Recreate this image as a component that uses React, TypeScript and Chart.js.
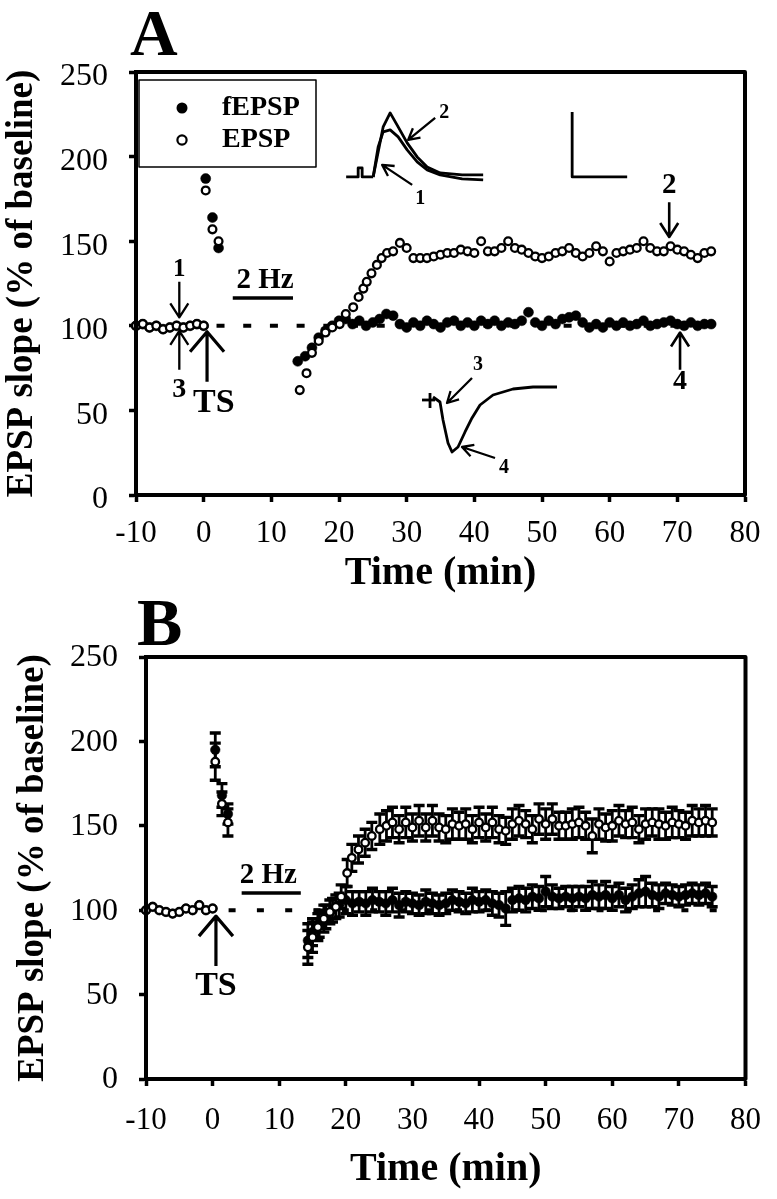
import React, { useEffect, useRef } from 'react';
import { Chart, registerables } from 'chart.js';

Chart.register(...registerables);

const FONT = '"Liberation Serif", "Times New Roman", Times, serif';
Chart.defaults.font.family = FONT;

// ---------------- shared axis settings ----------------
const xMin = -10;
const xMax = 80;
const xStep = 10;
const yMin = 0;
const yMax = 250;
const yStep = 50;
const xTitle = 'Time (min)';
const yTitle = 'EPSP slope (% of baseline)';
const seriesNames = ['fEPSP', 'EPSP'];

// ---------------- Panel A data ----------------
const aTimeEPSP = [-10, -9, -8, -7, -6, -5, -4, -3, -2, -1, 0,
  0.3, 1.3, 2.2,
  14.2, 15.2, 16, 17, 18, 19, 20.1, 21, 22.1, 22.9, 23.6, 24.1, 24.8, 25.6, 26.3, 27.1, 28, 29,
  30, 31, 32, 33, 34, 35, 36, 37, 38, 39, 40, 41, 42, 43, 44, 45, 46, 47, 48, 49,
  50, 51, 52, 53, 54, 55, 56, 57, 58, 59, 60, 61, 62, 63, 64, 65, 66, 67, 68, 69,
  70, 71, 72, 73, 74, 75];
const aEPSP = [100, 101, 99, 100, 98, 99, 100, 99, 100, 101, 100,
  180, 157, 150,
  62, 72, 84, 91, 96, 99, 101, 107, 111, 117, 122, 126, 131, 136, 140, 143, 144, 149,
  146, 140, 140, 140, 141, 142, 143, 143, 145, 144,
  143, 150, 144, 144, 146, 150, 146, 145, 143, 141,
  140, 141, 143, 144, 146, 143, 141, 143, 147, 144,
  138, 143, 144, 145, 146, 150, 146, 144, 144, 147,
  145, 144, 142, 140, 143, 144];

const aTimeFEPSP = [-10, -9, -8, -7, -6, -5, -4, -3, -2, -1, 0,
  0.3, 1.3, 2.2,
  13.9, 15, 16, 17, 18, 19,
  20, 21, 22, 23, 24, 25, 26, 27, 28, 29,
  30, 31, 32, 33, 34, 35, 36, 37, 38, 39,
  40, 41, 42, 43, 44, 45, 46, 47, 48, 49,
  50, 51, 52, 53, 54, 55, 56, 57, 58, 59,
  60, 61, 62, 63, 64, 65, 66, 67, 68, 69,
  70, 71, 72, 73, 74, 75];
const aFEPSP = [100, 101, 99, 100, 98, 99, 100, 99, 100, 101, 100,
  187, 164, 146,
  79, 82, 87, 93, 97, 100,
  103, 104, 101, 103, 100, 102, 104, 107, 106, 101,
  99, 102, 100, 103, 101, 99, 102, 103, 100, 102,
  100, 103, 101, 103, 100, 102, 101, 103, 108, 102,
  100, 103, 101, 104, 105, 106, 102, 99, 101, 99,
  102, 100, 102, 100, 101, 103, 100, 101, 102, 103,
  101, 100, 102, 100, 101, 101];

// ---------------- Panel B data (mean ± SEM) ----------------
const bTimeEPSP = [-10, -9, -8, -7, -6, -5, -4, -3, -2, -1, 0,
  0.4, 1.4, 2.3,
  14.3, 15, 15.8, 16.7, 17.6, 18.5, 19.3, 20.2, 20.9, 21.9, 22.9, 23.9, 25.1, 26.1,
  27, 28, 29, 30, 31, 32, 33, 34, 35, 36,
  37, 38, 39, 40, 41, 42, 43, 44, 45, 46,
  47, 48, 49, 50, 51, 52, 53, 54, 55, 56,
  57, 58, 59, 60, 61, 62, 63, 64, 65, 66,
  67, 68, 69, 70, 71, 72, 73, 74, 75];
const bEPSP = [100, 102, 100, 99, 98, 99, 101, 100, 103, 100, 101,
  188, 163, 152,
  78, 84, 90, 95, 99, 102, 108, 122, 131, 136, 140, 144, 148, 150,
  152, 148, 152, 149, 153, 149, 153, 149, 148, 151,
  150, 151, 148, 152, 149, 152, 148, 147, 151, 153,
  151, 148, 154, 151, 154, 150, 150, 151, 152, 150,
  144, 151, 149, 150, 153, 151, 152, 148, 151, 152,
  151, 150, 152, 151, 150, 153, 152, 153, 152];
const bErrEPSP = [0, 0, 0, 0, 0, 0, 0, 0, 0, 0, 0,
  11, 7, 8,
  10, 9, 8, 8, 7, 7, 7, 8, 8, 8, 8, 8, 9, 9,
  9, 8, 9, 8, 9, 8, 9, 8, 8, 9,
  8, 9, 8, 9, 8, 9, 8, 8, 9, 9,
  8, 8, 9, 9, 9, 8, 8, 9, 9, 8,
  10, 9, 8, 9, 9, 8, 9, 8, 9, 8,
  9, 8, 9, 8, 8, 9, 8, 9, 8];

const bTimeFEPSP = [-10, -9, -8, -7, -6, -5, -4, -3, -2, -1, 0,
  0.4, 1.4, 2.3,
  14.3, 15, 16, 17, 18, 19, 20, 21, 22, 23,
  24, 25, 26, 27, 28, 29, 30, 31, 32, 33,
  34, 35, 36, 37, 38, 39, 40, 41, 42, 43,
  44, 45, 46, 47, 48, 49, 50, 51, 52, 53,
  54, 55, 56, 57, 58, 59, 60, 61, 62, 63,
  64, 65, 66, 67, 68, 69, 70, 71, 72, 73,
  74, 75];
const bFEPSP = [100, 102, 100, 99, 98, 99, 101, 100, 103, 100, 101,
  195, 168, 157,
  82, 87, 92, 96, 100, 103, 106, 104, 105, 104,
  106, 105, 104, 106, 103, 105, 104, 103, 105, 104,
  103, 104, 106, 105, 104, 106, 105, 106, 104, 103,
  101, 106, 107, 106, 108, 107, 111, 108, 107, 108,
  107, 108, 107, 109, 108, 109, 107, 109, 106, 108,
  110, 111, 109, 108, 110, 109, 108, 109, 110, 109,
  110, 108];
const bErrFEPSP = [0, 0, 0, 0, 0, 0, 0, 0, 0, 0, 0,
  10, 7, 6,
  10, 8, 8, 7, 7, 7, 8, 7, 6, 7,
  7, 6, 7, 7, 7, 6, 6, 6, 7, 6,
  6, 6, 6, 6, 6, 7, 6, 6, 7, 7,
  10, 7, 7, 7, 7, 7, 9, 7, 6, 6,
  7, 6, 7, 8, 7, 8, 7, 7, 7, 7,
  8, 9, 7, 7, 6, 6, 6, 6, 6, 6,
  6, 6];

// ---------------- annotations (data-space anchors, pixel offsets) ----------------
type Arrow = { t: number; from: number; to: number; label: string; lt?: number; lv: number; size: number; head: [number, number]; lw: number };

const aArrows: Arrow[] = [
  { t: -3.6, from: 126, to: 105, label: '1', lv: 133, size: 25, head: [14, 9], lw: 2.3 },
  { t: -3.6, from: 74, to: 97, label: '3', lv: 62, size: 28, head: [14, 9], lw: 2.3 },
  { t: 0.5, from: 67, to: 96.5, label: 'TS', lt: 1.5, lv: 54, size: 34, head: [20, 17], lw: 3.2 },
  { t: 68.8, from: 173, to: 152.5, label: '2', lv: 183, size: 29, head: [14, 9], lw: 2.6 },
  { t: 70.4, from: 74, to: 96, label: '4', lv: 67, size: 28, head: [14, 9], lw: 2.6 },
];
const bArrows: Arrow[] = [
  { t: 0.5, from: 67, to: 96.5, label: 'TS', lv: 55, size: 34, head: [20, 17], lw: 3.2 },
];

const aStim = { text: '2 Hz', t: 9.06, v: 127, from: 4.3, to: 13.2, barV: 116.4 };
const bStim = { text: '2 Hz', t: 8.35, v: 120.3, from: 4.36, to: 13.24, barV: 110.2 };

// Inset traces (illustrations) anchored in data space, shapes in pixel offsets
const topInset = {
  anchor: { t: 24.9, v: 188 },
  paths: [
    [[-26, 0], [-14, 0], [-14, -9], [-10, -9], [-10, 0], [1, 0]],
    [[1, 0], [6, -25], [11, -50], [18, -64], [26, -50], [35, -34], [45, -20], [55, -10], [68, -4], [90, -2], [111, -2]],
    [[1, 0], [6, -30], [11, -45], [18, -47], [26, -40], [35, -27], [45, -15], [55, -7], [68, -2], [90, 2], [111, 3]],
    [[200, -65], [200, 0], [255, 0]],
  ],
  arrows: [
    { from: [63, -59], to: [36, -37], label: '2', at: [72, -64] },
    { from: [40, 8], to: [10, -12], label: '1', at: [48, 22] },
  ],
};
const bottomInset = {
  anchor: { t: 33.45, v: 56.15 },
  paths: [
    [[-8, 0], [5, 0]],
    [[0, -7], [0, 8]],
    [[3, -3], [10, 2], [13, 20], [18, 43], [22, 52], [28, 47], [35, 32], [42, 18], [50, 5], [63, -5], [83, -11], [103, -13], [127, -13]],
  ],
  arrows: [
    { from: [42, -22], to: [17, 3], label: '3', at: [48, -35] },
    { from: [65, 58], to: [32, 47], label: '4', at: [74, 68] },
  ],
};

// ---------------- panel layout ----------------
type PanelSpec = {
  letter: string;
  canvasTop: number;
  canvasHeight: number;
  padding: { left: number; top: number; right: number; bottom: number };
  yWidth: number;
  xHeight: number;
  xTickPad: number;
  yTickPad: number;
  yLabelOffset: number;
  xTitlePad: number;
  yTitlePad: number;
  letterPos: [number, number];
  letterSize: number;
  tE: number[]; vE: number[]; eE?: number[];
  tF: number[]; vF: number[]; eF?: number[];
  dash: { from: number; to: number; pattern: number[] };
  arrows: Arrow[];
  stim: typeof aStim;
  insets: (typeof topInset)[];
  legend: boolean;
  openR: number;
  filledR: number;
};

const panelA: PanelSpec = {
  letter: 'A', canvasTop: 0, canvasHeight: 610,
  padding: { left: 0, top: 72, right: 32, bottom: 0 },
  yWidth: 136, xHeight: 115, xTickPad: 13, yTickPad: 21, yLabelOffset: 5,
  xTitlePad: 12, yTitlePad: 0, letterPos: [130, 55], letterSize: 66,
  tE: aTimeEPSP, vE: aEPSP, tF: aTimeFEPSP, vF: aFEPSP,
  dash: { from: 1.9, to: 76.5, pattern: [8, 18.7] },
  arrows: aArrows, stim: aStim, insets: [topInset, bottomInset], legend: true,
  openR: 3.9, filledR: 5,
};
const panelB: PanelSpec = {
  letter: 'B', canvasTop: 580, canvasHeight: 619,
  padding: { left: 0, top: 77, right: 23, bottom: 0 },
  yWidth: 146, xHeight: 120, xTickPad: 16, yTickPad: 21, yLabelOffset: 1,
  xTitlePad: 5, yTitlePad: 11, letterPos: [137, 65], letterSize: 68,
  tE: bTimeEPSP, vE: bEPSP, eE: bErrEPSP, tF: bTimeFEPSP, vF: bFEPSP, eF: bErrFEPSP,
  dash: { from: 2.4, to: 76.6, pattern: [7, 21.3] },
  arrows: bArrows, stim: bStim, insets: [], legend: false,
  openR: 3.8, filledR: 4.8,
};

function toPoints(t: number[], v: number[]) {
  return t.map((x, i) => ({ x, y: v[i] }));
}

function drawArrow(ctx: CanvasRenderingContext2D, x1: number, y1: number, x2: number, y2: number, L: number, W: number, lw: number) {
  const a = Math.atan2(y2 - y1, x2 - x1);
  ctx.lineWidth = lw;
  ctx.beginPath();
  ctx.moveTo(x1, y1);
  ctx.lineTo(x2, y2);
  const bx = x2 - L * Math.cos(a);
  const by = y2 - L * Math.sin(a);
  const px = -Math.sin(a) * W;
  const py = Math.cos(a) * W;
  ctx.moveTo(bx + px, by + py);
  ctx.lineTo(x2, y2);
  ctx.lineTo(bx - px, by - py);
  ctx.stroke();
}

function label(ctx: CanvasRenderingContext2D, s: string, x: number, y: number, size: number) {
  ctx.font = `bold ${size}px ${FONT}`;
  ctx.textAlign = 'center';
  ctx.textBaseline = 'middle';
  ctx.fillText(s, x, y);
}

function makeDecor(spec: PanelSpec) {
  return {
    id: 'decor' + spec.letter,
    beforeDatasetsDraw(chart: any) {
      const ctx: CanvasRenderingContext2D = chart.ctx;
      const xs = chart.scales.x;
      const ys = chart.scales.y;
      ctx.save();
      ctx.strokeStyle = '#000';
      chart.data.datasets.forEach((ds: any) => {
        if (!ds.errors) return;
        ds.data.forEach((p: any, i: number) => {
          const e = ds.errors[i];
          if (!e) return;
          const x = xs.getPixelForValue(p.x);
          const y1 = ys.getPixelForValue(p.y - e);
          const y2 = ys.getPixelForValue(p.y + e);
          ctx.lineWidth = 2.8;
          ctx.beginPath();
          ctx.moveTo(x, y1); ctx.lineTo(x, y2);
          ctx.stroke();
          ctx.lineWidth = 3.4;
          ctx.beginPath();
          ctx.moveTo(x - 5.5, y1); ctx.lineTo(x + 5.5, y1);
          ctx.moveTo(x - 5.5, y2); ctx.lineTo(x + 5.5, y2);
          ctx.stroke();
        });
      });
      ctx.restore();
    },
    afterDraw(chart: any) {
      const ctx: CanvasRenderingContext2D = chart.ctx;
      const ca = chart.chartArea;
      const xs = chart.scales.x;
      const ys = chart.scales.y;
      const X = (t: number) => xs.getPixelForValue(t);
      const Y = (v: number) => ys.getPixelForValue(v);
      ctx.save();
      ctx.strokeStyle = '#000';
      ctx.fillStyle = '#000';
      ctx.lineJoin = 'round';
      ctx.lineCap = 'butt';
      // frame
      ctx.lineWidth = 4;
      ctx.strokeRect(ca.left, ca.top, ca.right - ca.left, ca.bottom - ca.top);
      // panel letter
      ctx.font = `bold ${spec.letterSize}px ${FONT}`;
      ctx.textAlign = 'left';
      ctx.textBaseline = 'alphabetic';
      ctx.fillText(spec.letter, spec.letterPos[0], spec.letterPos[1]);
      // vertical arrows
      for (const a of spec.arrows) {
        drawArrow(ctx, X(a.t), Y(a.from), X(a.t), Y(a.to), a.head[0], a.head[1], a.lw);
        label(ctx, a.label, X(a.lt ?? a.t), Y(a.lv), a.size);
      }
      // stimulation bar
      const s = spec.stim;
      label(ctx, s.text, X(s.t), Y(s.v), 29);
      ctx.lineWidth = 3.5;
      ctx.beginPath();
      ctx.moveTo(X(s.from), Y(s.barV));
      ctx.lineTo(X(s.to), Y(s.barV));
      ctx.stroke();
      // insets
      for (const ins of spec.insets) {
        const ax = X(ins.anchor.t);
        const ay = Y(ins.anchor.v);
        ctx.lineWidth = 2.8;
        ctx.lineJoin = 'round';
        for (const path of ins.paths) {
          ctx.beginPath();
          path.forEach((p, i) => (i === 0 ? ctx.moveTo(ax + p[0], ay + p[1]) : ctx.lineTo(ax + p[0], ay + p[1])));
          ctx.stroke();
        }
        for (const ar of ins.arrows) {
          drawArrow(ctx, ax + ar.from[0], ay + ar.from[1], ax + ar.to[0], ay + ar.to[1], 11, 6, 2.3);
          label(ctx, ar.label, ax + ar.at[0], ay + ar.at[1], 20);
        }
      }
      // legend
      if (spec.legend) {
        const lx = ca.left + 3;
        const ly = ca.top + 8;
        ctx.lineWidth = 1.5;
        ctx.strokeRect(lx, ly, 177, 87);
        const rows = [
          { name: chart.data.datasets[1].label, filled: true, y: ly + 28 },
          { name: chart.data.datasets[0].label, filled: false, y: ly + 60 },
        ];
        for (const r of rows) {
          ctx.beginPath();
          ctx.arc(lx + 43, r.y, r.filled ? 5.5 : 4.6, 0, Math.PI * 2);
          if (r.filled) {
            ctx.fill();
          } else {
            ctx.fillStyle = '#fff';
            ctx.fill();
            ctx.fillStyle = '#000';
            ctx.lineWidth = 2.2;
            ctx.stroke();
          }
          ctx.font = `bold 28px ${FONT}`;
          ctx.textAlign = 'left';
          ctx.textBaseline = 'middle';
          ctx.fillText(r.name, lx + 83, r.y);
        }
      }
      ctx.restore();
    },
  };
}

function buildConfig(spec: PanelSpec): any {
  const tickFont = { family: FONT, size: 31 };
  return {
    type: 'scatter',
    data: {
      datasets: [
        {
          label: seriesNames[1],
          data: toPoints(spec.tE, spec.vE),
          errors: spec.eE,
          showLine: false,
          pointRadius: spec.openR,
          pointBackgroundColor: '#fff',
          pointBorderColor: '#000',
          pointBorderWidth: 2.3,
          order: 0,
          clip: false,
        },
        {
          label: seriesNames[0],
          data: toPoints(spec.tF, spec.vF),
          errors: spec.eF,
          showLine: false,
          pointRadius: spec.filledR,
          pointBackgroundColor: '#000',
          pointBorderColor: '#000',
          pointBorderWidth: 0.5,
          order: 1,
          clip: false,
        },
        {
          label: 'baseline',
          data: [{ x: spec.dash.from, y: 100 }, { x: spec.dash.to, y: 100 }],
          showLine: true,
          borderColor: '#000',
          borderWidth: 4,
          borderDash: spec.dash.pattern,
          borderCapStyle: 'butt',
          pointRadius: 0,
          order: 2,
          clip: false,
        },
      ],
    },
    options: {
      animation: false,
      responsive: false,
      devicePixelRatio: 1,
      events: [],
      layout: { padding: spec.padding },
      plugins: { legend: { display: false }, tooltip: { enabled: false } },
      scales: {
        x: {
          type: 'linear',
          min: xMin,
          max: xMax,
          ticks: { stepSize: xStep, font: tickFont, color: '#000', padding: spec.xTickPad, maxRotation: 0, autoSkip: false },
          grid: { display: true, drawOnChartArea: false, drawTicks: true, tickLength: 7, tickWidth: 3.5, tickColor: '#000', color: '#000' },
          border: { display: true, color: '#000', width: 4 },
          title: { display: true, text: xTitle, color: '#000', font: { family: FONT, size: 40, weight: 'bold' }, padding: { top: 0, bottom: spec.xTitlePad } },
          afterFit: (sc: any) => { sc.height = spec.xHeight; },
        },
        y: {
          type: 'linear',
          min: yMin,
          max: yMax,
          ticks: { stepSize: yStep, font: { family: FONT, size: 32 }, color: '#000', padding: spec.yTickPad, labelOffset: spec.yLabelOffset },
          grid: { display: true, drawOnChartArea: false, drawTicks: true, tickLength: 7, tickWidth: 3.5, tickColor: '#000', color: '#000' },
          border: { display: true, color: '#000', width: 4 },
          title: { display: true, text: yTitle, color: '#000', font: { family: FONT, size: 37, weight: 'bold' }, padding: { top: spec.yTitlePad, bottom: 0 } },
          afterFit: (sc: any) => { sc.width = spec.yWidth; },
        },
      },
    },
    plugins: [makeDecor(spec)],
  };
}

function Panel({ spec }: { spec: PanelSpec }) {
  const ref = useRef<HTMLCanvasElement>(null);
  useEffect(() => {
    const chart = new Chart(ref.current as HTMLCanvasElement, buildConfig(spec));
    return () => chart.destroy();
  }, [spec]);
  return (
    <canvas
      ref={ref}
      width={777}
      height={spec.canvasHeight}
      style={{ position: 'absolute', left: 0, top: spec.canvasTop, width: 777, height: spec.canvasHeight, display: 'block' }}
    />
  );
}

export default function App() {
  return (
    <div style={{ position: 'absolute', left: 0, top: 0, width: 777, height: 1199, background: '#fff', overflow: 'hidden' }}>
      <Panel spec={panelA} />
      <Panel spec={panelB} />
    </div>
  );
}
